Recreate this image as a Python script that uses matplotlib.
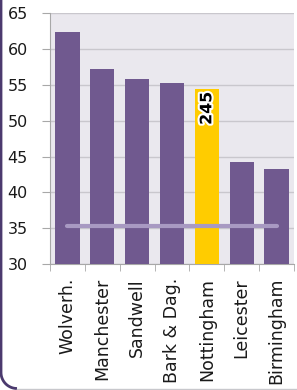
import matplotlib
matplotlib.use("Agg")
import matplotlib.pyplot as plt
import matplotlib.patheffects as pe
from matplotlib.path import Path
from matplotlib.patches import PathPatch
import numpy as np

categories = ["Wolverh.", "Manchester", "Sandwell", "Bark & Dag.", "Nottingham", "Leicester", "Birmingham"]
values = [62.4, 57.2, 55.8, 55.2, 54.4, 44.3, 43.3]
highlight = "Nottingham"
highlight_label = "245"
average = 35.3
yticks = [30, 35, 40, 45, 50, 55, 60, 65]

plt.rcParams['font.family'] = ['DejaVu Sans']

W, H = 297, 390
fig = plt.figure(figsize=(W / 100, H / 100), dpi=100)
fig.patch.set_facecolor("white")

# panel border: purple left side with rounded bottom-left corner, light bottom line
r = 16
t = np.linspace(np.pi, 1.5 * np.pi, 20)
arc_x = (1 + r + r * np.cos(t)) / W
arc_y = (1.5 + r + r * np.sin(t)) / H
verts = [(1 / W, 1.01)] + list(zip(arc_x, arc_y))
fig.add_artist(PathPatch(Path(verts), transform=fig.transFigure, facecolor="none",
                         edgecolor="#4B3A6E", linewidth=2.0))
fig.add_artist(plt.Line2D([(1 + r) / W, 1.0], [1.5 / H, 1.5 / H], transform=fig.transFigure,
                          color="#C8C8CC", linewidth=1.0))

ax = fig.add_axes([0.168, 0.323, 0.822, 0.643])
ax.set_facecolor("#EAE8EE")

x = np.arange(len(categories))
colors = ["#FFCC00" if c == highlight else "#70598F" for c in categories]
ax.bar(x, values, width=0.7, color=colors, zorder=3)

ax.plot([x[0], x[-1]], [average, average], color="#A899C2", linewidth=3,
        solid_capstyle="round", zorder=4)

hi = categories.index(highlight)
ax.text(x[hi], values[hi] - 0.35, highlight_label, rotation=90, ha="center", va="top",
        fontsize=11.4, fontweight="bold", color="black", zorder=5,
        path_effects=[pe.withStroke(linewidth=3, foreground="white")])

ax.set_ylim(30, 65)
ax.set_xlim(-0.5, len(categories) - 0.5)
ax.set_yticks(yticks)
ax.set_yticklabels([str(t) for t in yticks], fontsize=11.5, color="#1a1a1a")
ax.yaxis.grid(True, color="#C9C7CD", linewidth=1, zorder=0)
ax.set_axisbelow(True)

ax.set_xticks(x)
ax.set_xticklabels(categories, rotation=90, fontsize=12.5, color="#1a1a1a")
ax.set_xticks(np.arange(-0.5, len(categories)), minor=True)
ax.tick_params(axis="x", which="major", length=0, pad=10)
ax.tick_params(axis="x", which="minor", length=5, color="#A8A8A8", direction="out")
ax.tick_params(axis="y", length=6, color="#A8A8A8", pad=10)

for s in ["top", "right"]:
    ax.spines[s].set_visible(False)
ax.spines["left"].set_color("#A8A8A8")
ax.spines["bottom"].set_color("#A8A8A8")

fig.savefig("out.png", dpi=100)
